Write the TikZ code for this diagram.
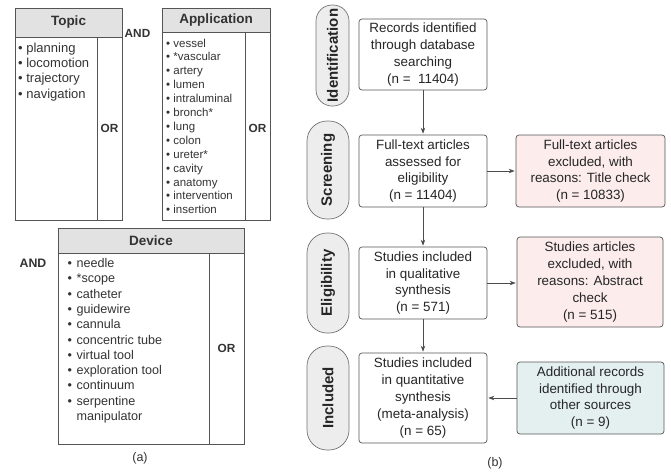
\documentclass[tikz,border=0pt]{standalone}
\usepackage{fontspec}
\setmainfont{Liberation Sans}
\usetikzlibrary{arrows.meta}
\definecolor{hdr}{HTML}{E2E2E2}
\definecolor{edgec}{HTML}{555555}
\definecolor{txt}{HTML}{333333}
\definecolor{pillfill}{HTML}{EDEDED}
\definecolor{pinkfill}{HTML}{FCECEC}
\definecolor{tealfill}{HTML}{E4F0F0}
\tikzset{
  tbl/.style={draw=edgec, line width=0.8pt},
  hdrtext/.style={font=\fontsize{13.5}{16}\selectfont\bfseries, text=txt, inner sep=0pt},
  ortext/.style={font=\fontsize{11.8}{14}\selectfont\bfseries, text=txt, inner sep=0pt},
  listtext/.style={text=txt, inner sep=0pt, anchor=base west},
  flowbox/.style={draw=edgec, line width=0.7pt, rounded corners=3pt, fill=white, align=center,
     text=black!85, inner sep=0pt, font=\fontsize{13.4}{16.9}\selectfont},
  pill/.style={draw=black!55, line width=0.7pt, fill=pillfill, inner sep=0pt},
  pilltext/.style={rotate=90, font=\fontsize{15}{18}\selectfont\bfseries, text=black!85, inner sep=0pt},
  conn/.style={draw=black!70, line width=0.7pt, -{Stealth[length=6pt,width=4.5pt]}, shorten >=1pt},
  captext/.style={font=\fontsize{12.5}{15}\selectfont, text=txt, inner sep=0pt}
}
\begin{document}
\begin{tikzpicture}[x=1pt,y=-1pt]
\useasboundingbox (0,0) rectangle (671,472);

% ---------- Topic table ----------
\draw[tbl, fill=hdr] (15,8) rectangle (122,37);
\draw[tbl] (15,37) rectangle (122,220);
\draw[tbl] (97,37) -- (97,220);
\node[hdrtext] (topicH) at (68.5,22.5) {Topic};
\node[listtext, font=\fontsize{13}{15.4}\selectfont] (topicL) at (18,52)
  {\begin{tabular}[t]{@{}l@{}}• planning\\• locomotion\\• trajectory\\• navigation\end{tabular}};
\node[ortext] (topicOR) at (109.5,128) {OR};

% ---------- AND top ----------
\node[ortext] (and1) at (137.5,33) {AND};

% ---------- Application table ----------
\draw[tbl, fill=hdr] (162,8) rectangle (270,32);
\draw[tbl] (162,32) rectangle (270,220);
\draw[tbl] (245,32) -- (245,220);
\node[hdrtext] (appH) at (216,20) {Application};
\node[listtext, font=\fontsize{11.5}{13.9}\selectfont] (appL) at (166,47)
  {\begin{tabular}[t]{@{}l@{}}• vessel\\• *vascular\\• artery\\• lumen\\• intraluminal\\• bronch*\\• lung\\• colon\\• ureter*\\• cavity\\• anatomy\\• intervention\\• insertion\end{tabular}};
\node[ortext] (appOR) at (257.5,128) {OR};

% ---------- Device table ----------
\draw[tbl, fill=hdr] (58,228) rectangle (244,253);
\draw[tbl] (58,253) rectangle (244,444);
\draw[tbl] (209,253) -- (209,444);
\node[hdrtext] (devH) at (151,240.5) {Device};
\node[listtext, font=\fontsize{12.6}{15.3}\selectfont] (devL) at (67.5,267.5)
  {\begin{tabular}[t]{@{}l@{\hspace{4.5pt}}l@{}}•&needle\\•&*scope\\•&catheter\\•&guidewire\\•&cannula\\•&concentric tube\\•&virtual tool\\•&exploration tool\\•&continuum\\•&serpentine\\&manipulator\end{tabular}};
\node[ortext] (devOR) at (226.5,348) {OR};
\node[ortext, font=\fontsize{12.3}{14}\selectfont\bfseries] (and2) at (33,263) {AND};

\node[captext] (capa) at (140,458) {(a)};

% ---------- Phase pills ----------
\draw[pill, rounded corners=16pt] (316,5) rectangle (349,106);
\node[pilltext] (pId) at (332.5,55.5) {Identification};
\draw[pill, rounded corners=20pt] (307,121) rectangle (349,219);
\node[pilltext] (pSc) at (328,170) {Screening};
\draw[pill, rounded corners=20pt] (307,233) rectangle (349,333);
\node[pilltext] (pEl) at (328,283) {Eligibility};
\draw[pill, rounded corners=20pt] (307,346) rectangle (349,450);
\node[pilltext] (pIn) at (328,398) {Included};

% ---------- Flow boxes ----------
\node[flowbox, minimum width=128pt, minimum height=71pt] (b1) at (423,54.5)
  {Records identified\\through database\\searching\\(n = \ 11404)};
\node[flowbox, minimum width=128pt, minimum height=72pt] (b2) at (423,171)
  {Full-text articles\\assessed for\\eligibility\\(n = 11404)};
\node[flowbox, fill=pinkfill, minimum width=149pt, minimum height=72pt] (b3) at (590.5,171)
  {Full-text articles\\excluded, with\\reasons: Title check\\(n = 10833)};
\node[flowbox, minimum width=128pt, minimum height=72pt] (b4) at (423,283)
  {Studies included\\in qualitative\\synthesis\\(n = 571)};
\node[flowbox, fill=pinkfill, minimum width=146pt, minimum height=90pt] (b5) at (590,282)
  {Studies articles\\excluded, with\\reasons: Abstract\\check\\(n = 515)};
\node[flowbox, minimum width=128pt, minimum height=90pt] (b6) at (423,398)
  {Studies included\\in quantitative\\synthesis\\(meta-analysis)\\(n = 65)};
\node[flowbox, fill=tealfill, minimum width=147pt, minimum height=72pt] (b7) at (590.5,398)
  {Additional records\\identified through\\other sources\\(n = 9)};

\draw[conn] (b1.south) -- (b2.north);
\draw[conn] (b2.east) -- (b3.west);
\draw[conn] (b2.south) -- (b4.north);
\draw[conn] (b4.east) -- (b4.east -| b5.west);
\draw[conn] (b4.south) -- (b6.north);
\draw[conn] (b7.west) -- (b6.east);

\node[captext] (capb) at (495,463) {(b)};
\end{tikzpicture}
\end{document}
